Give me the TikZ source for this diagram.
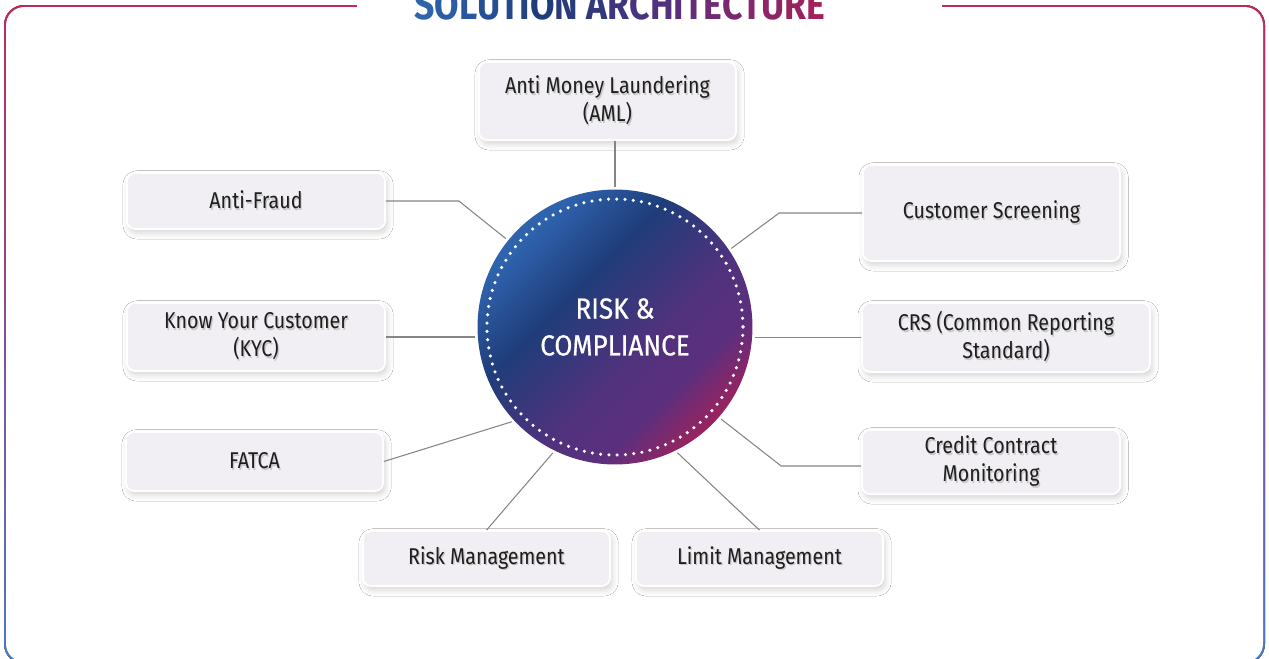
\documentclass[tikz,border=0pt]{standalone}
\usepackage{fontspec}
\setmainfont{Fira Sans}[FakeStretch=0.86]
\newfontfamily\titlefont{Fira Sans}[FakeStretch=0.86]
\newfontfamily\hubfont{Fira Sans}[FakeStretch=0.9,FakeBold=0.6]
\usetikzlibrary{positioning,shadows.blur}

\definecolor{skyblue}{HTML}{2F63AE}
\definecolor{navy}{HTML}{1F3D7A}
\definecolor{plum}{HTML}{5C2F7E}
\definecolor{berry}{HTML}{A2215A}
\definecolor{framered}{HTML}{C02760}
\definecolor{frameblue}{HTML}{4A78C8}
\definecolor{boxfill}{HTML}{F1EFF4}
\definecolor{linkgray}{HTML}{858585}
\definecolor{ink}{HTML}{1E1E1E}

\pgfdeclarehorizontalshading{hubshade}{100bp}{color(0bp)=(skyblue); color(27bp)=(skyblue); color(40bp)=(navy); color(56bp)=(plum!80!navy); color(66bp)=(plum); color(76bp)=(berry); color(100bp)=(berry)}

% text with a soft shadow
\newcommand\tsh[1]{\makebox[0pt][l]{\hspace{0.7pt}\raisebox{-1pt}{\textcolor{black!22}{#1}}}#1}

\tikzset{
  topic/.style={draw=white, line width=1pt, fill=boxfill, rounded corners=0.16cm,
    align=center, text=ink, font=\fontsize{13}{16}\selectfont,
    blur shadow={shadow xshift=1.2pt, shadow yshift=-2.2pt, shadow blur radius=3.5pt, shadow opacity=17}},
  link/.style={draw=linkgray, line width=0.6pt, shorten >=1.5pt},
}

\begin{document}
\begin{tikzpicture}[x=0.02cm,y=-0.02cm]
\useasboundingbox (0,0) rectangle (1269,659);
\clip (0,0) rectangle (1269,659);

% frame
\fill[top color=framered,bottom color=frameblue,rounded corners=0.4cm] (4,5) rectangle (1265,664);
\fill[white,rounded corners=0.37cm] (6,7) rectangle (1263,662);
\fill[white] (357,0) rectangle (942,12);

% title
\node[anchor=base, inner sep=0, font=\titlefont\bfseries\fontsize{23.5}{23.5}\selectfont] (title) at (620,19.5)
 {\textcolor{skyblue}{S}\textcolor{skyblue!83!navy}{O}\textcolor{skyblue!67!navy}{L}\textcolor{skyblue!50!navy}{U}\textcolor{skyblue!33!navy}{T}\textcolor{skyblue!17!navy}{I}\textcolor{navy}{O}\textcolor{navy!83!plum}{N} \textcolor{navy!67!plum}{A}\textcolor{navy!50!plum}{R}\textcolor{navy!33!plum}{C}\textcolor{navy!17!plum}{H}\textcolor{plum}{I}\textcolor{plum!86!berry}{T}\textcolor{plum!71!berry}{E}\textcolor{plum!57!berry}{C}\textcolor{plum!43!berry}{T}\textcolor{plum!29!berry}{U}\textcolor{plum!14!berry}{R}\textcolor{berry}{E}};

% centre
\node[circle, minimum size=5.5cm, inner sep=0, shading=hubshade, shading angle=-45,
      text=white, align=center, font=\hubfont\fontsize{16.5}{21}\selectfont] (hub) at (615,327) {RISK \&\\COMPLIANCE};
\draw[white, line width=2pt, line cap=round, dash pattern=on 0pt off 4.717pt] (hub.center) circle (128);

% topics
\node[topic, minimum width=5.14cm, minimum height=1.56cm] (aml) at (607.5,101) {\tsh{Anti Money Laundering}\\\tsh{(AML)}};
\node[topic, minimum width=5.16cm, minimum height=1.12cm] (fraud) at (256,201) {\tsh{Anti-Fraud}};
\node[topic, minimum width=5.14cm, minimum height=1.92cm] (screen) at (991.5,213) {\tsh{Customer Screening}};
\node[topic, minimum width=5.16cm, minimum height=1.36cm] (kyc) at (256,337) {\tsh{Know Your Customer}\\\tsh{(KYC)}};
\node[topic, minimum width=5.76cm, minimum height=1.38cm] (crs) at (1006,337.5) {\tsh{CRS (Common Reporting}\\\tsh{Standard)}};
\node[topic, minimum width=5.14cm, minimum height=1.18cm] (fatca) at (254.5,461.5) {\tsh{FATCA}};
\node[topic, minimum width=5.16cm, minimum height=1.2cm] (credit) at (991,462) {\tsh{Credit Contract}\\\tsh{Monitoring}};
\node[topic, minimum width=4.94cm, minimum height=1.1cm] (risk) at (486.5,558.5) {\tsh{Risk Management}};
\node[topic, minimum width=4.94cm, minimum height=1.1cm] (limit) at (759.5,558.5) {\tsh{Limit Management}};

% connectors
\draw[link] (aml.south -| hub.north) -- (hub.north);
\draw[link] (fraud.east) -- ++(73,0) -- (hub.141);
\draw[link] (screen.west) -- ++(-83,0) -- (hub.34);
\draw[link] (kyc.east) -- (kyc.east -| hub.west);
\draw[link] (crs.west) -- (crs.west -| hub.east);
\draw[link] (fatca.east) -- (hub.223);
\draw[link] ([yshift=-0.08cm]credit.west) -- ++(-80,0) -- (hub.-41);
\draw[link] (risk.north) -- (hub.-116);
\draw[link] (limit.north) -- (hub.-64);

\end{tikzpicture}
\end{document}
